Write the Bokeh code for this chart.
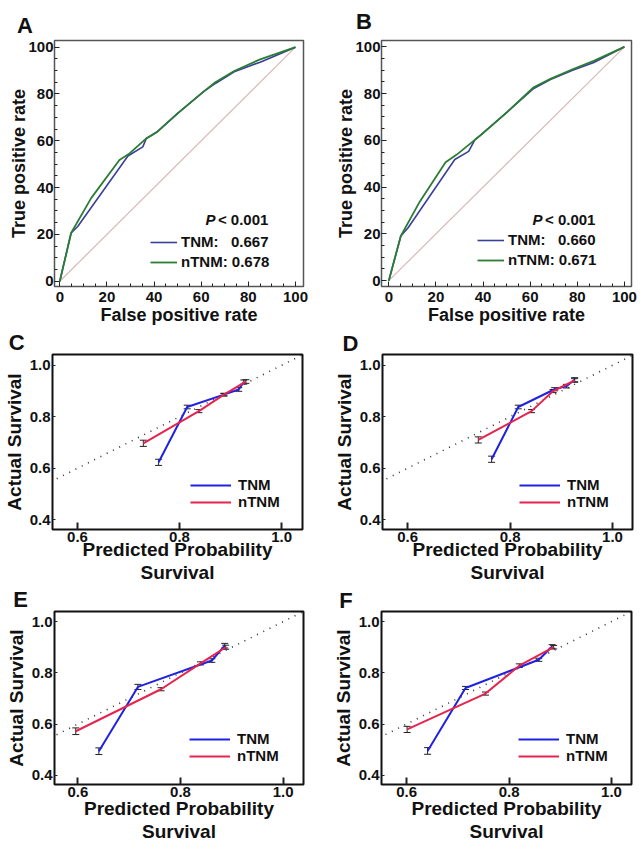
from bokeh.plotting import figure
from bokeh.layouts import column, row
from bokeh.models import (Range1d, FixedTicker, Legend, LegendItem, Label, Whisker,
                          TeeHead, ColumnDataSource, PrintfTickFormatter)
from bokeh.embed import file_html
from bokeh.resources import INLINE

FONT = "Liberation Sans"

# ---------------- ROC data (percent) ----------------
diag = [0, 100]
roc_ticks = [0, 20, 40, 60, 80, 100]
roc_minor = [5, 10, 15, 25, 30, 35, 45, 50, 55, 65, 70, 75, 85, 90, 95]

A_tnm_fpr = [0, 4.8, 7.6, 28.9, 35.2, 36.7, 41.3, 50.0, 61.0, 66.0, 74.0, 85.0, 100]
A_tnm_tpr = [0, 20.6, 23.4, 53.5, 57.4, 61.0, 63.8, 71.7, 81.0, 84.5, 89.5, 93.6, 100]
A_ntnm_fpr = [0, 4.8, 13.3, 25.3, 29.6, 36.7, 41.3, 50.0, 61.0, 66.0, 74.0, 85.0, 100]
A_ntnm_tpr = [0, 20.6, 35.5, 51.8, 54.6, 61.0, 63.8, 71.7, 81.0, 85.0, 89.8, 94.8, 100]
A_auc = ["0.667", "0.678"]

B_tnm_fpr = [0, 5.1, 8.2, 28.0, 33.9, 36.5, 39.3, 50.2, 61.5, 68.6, 78.0, 87.0, 100]
B_tnm_tpr = [0, 19.1, 22.6, 51.8, 55.3, 60.2, 62.5, 72.1, 82.2, 86.0, 90.0, 93.3, 100]
B_ntnm_fpr = [0, 5.1, 13.2, 24.1, 28.7, 36.5, 39.3, 50.2, 61.5, 68.6, 78.0, 87.0, 100]
B_ntnm_tpr = [0, 19.1, 33.9, 50.6, 53.8, 60.2, 62.5, 72.1, 82.7, 86.3, 90.4, 94.0, 100]
B_auc = ["0.660", "0.671"]

# ---------------- Calibration data ----------------
ideal = [0.4, 1.1]
cal_xticks = [0.6, 0.8, 1.0]
cal_yticks = [0.4, 0.6, 0.8, 1.0]

C_tnm_x = [0.759, 0.815, 0.887, 0.916, 0.926]
C_tnm_y = [0.623, 0.838, 0.886, 0.906, 0.935]
C_tnm_e = [0.012, 0.007, 0.005, 0.007, 0.008]
C_ntnm_x = [0.729, 0.838, 0.887, 0.930]
C_ntnm_y = [0.697, 0.822, 0.886, 0.937]
C_ntnm_e = [0.012, 0.006, 0.005, 0.007]

D_tnm_x = [0.764, 0.816, 0.887, 0.910, 0.926]
D_tnm_y = [0.635, 0.838, 0.907, 0.919, 0.944]
D_tnm_e = [0.012, 0.007, 0.006, 0.007, 0.008]
D_ntnm_x = [0.738, 0.842, 0.884, 0.926]
D_ntnm_y = [0.710, 0.822, 0.900, 0.941]
D_ntnm_e = [0.012, 0.006, 0.006, 0.007]

E_tnm_x = [0.641, 0.717, 0.861, 0.886]
E_tnm_y = [0.494, 0.745, 0.848, 0.906]
E_tnm_e = [0.013, 0.010, 0.007, 0.009]
E_ntnm_x = [0.596, 0.762, 0.839, 0.888]
E_ntnm_y = [0.572, 0.736, 0.837, 0.900]
E_ntnm_e = [0.013, 0.006, 0.006, 0.008]

F_tnm_x = [0.641, 0.715, 0.858, 0.884]
F_tnm_y = [0.495, 0.741, 0.851, 0.903]
F_tnm_e = [0.013, 0.006, 0.006, 0.007]
F_ntnm_x = [0.601, 0.754, 0.820, 0.887]
F_ntnm_y = [0.579, 0.719, 0.828, 0.900]
F_ntnm_e = [0.012, 0.006, 0.007, 0.007]

ROC_BLUE = "#3a3f9a"
ROC_GREEN = "#2c7d34"
DIAG = "#d8b9b9"
CAL_BLUE = "#1f22e0"
CAL_RED = "#e6244e"


def style_axes(p, tick_size="15px", label_size="18px"):
    for ax in (p.xaxis[0], p.yaxis[0]):
        ax.axis_line_color = None
        ax.major_label_text_font = FONT
        ax.major_label_text_font_style = "bold"
        ax.major_label_text_font_size = tick_size
        ax.major_label_text_color = "#111111"
        ax.axis_label_text_font = FONT
        ax.axis_label_text_font_style = "bold"
        ax.axis_label_text_font_size = label_size
        ax.axis_label_text_color = "#111111"
        ax.major_tick_line_color = "#222222"
        ax.minor_tick_line_color = "#222222"


def make_fig(width, height, bl, br, bt, bb, xr, yr, letter, letter_spec):
    p = figure(width=width, height=height, x_range=Range1d(*xr), y_range=Range1d(*yr),
               output_backend="svg", toolbar_location=None,
               min_border_left=bl, min_border_right=br, min_border_top=bt,
               min_border_bottom=bb)
    p.grid.visible = False
    p.title.visible = False
    # panel letter lives in a side panel so it is not clipped to the frame
    side, lx, x_units, ly = letter_spec
    p.add_layout(Label(x=lx, y=ly, x_units=x_units, y_units="screen",
                       text=letter, text_font=FONT, text_font_style="bold",
                       text_font_size="22px", text_align="center",
                       text_baseline="alphabetic", text_color="#111111"), side)
    return p


def roc_panel(letter, width, bl, br, bt, bb, xr, yr, tnm_f, tnm_t, ntnm_f, ntnm_t, auc,
              letter_spec, p_xy, leg_loc):
    p = make_fig(width, 329, bl, br, bt, bb, xr, yr, letter, letter_spec)
    style_axes(p)
    p.outline_line_color = "#555555"
    p.outline_line_width = 1.5
    p.xaxis.axis_label = "False positive rate"
    p.yaxis.axis_label = "True positive rate"
    for ax in (p.xaxis[0], p.yaxis[0]):
        ax.ticker = FixedTicker(ticks=roc_ticks, minor_ticks=roc_minor)
        ax.major_tick_in = 5
        ax.major_tick_out = 0
        ax.minor_tick_in = 3
        ax.minor_tick_out = 0
    p.xaxis.major_label_standoff = 5
    p.xaxis.axis_label_standoff = 0
    p.yaxis.major_label_standoff = 1
    p.yaxis.axis_label_standoff = -4

    p.line(diag, diag, line_color=DIAG, line_width=1.2)
    r1 = p.line(tnm_f, tnm_t, line_color=ROC_BLUE, line_width=1.6)
    r2 = p.line(ntnm_f, ntnm_t, line_color=ROC_GREEN, line_width=1.8)

    nb = "\u00a0"
    legend = Legend(items=[LegendItem(label="TNM:" + nb * 3 + auc[0], renderers=[r1]),
                           LegendItem(label="nTNM: " + auc[1], renderers=[r2])],
                    location=leg_loc, border_line_color=None, background_fill_alpha=0,
                    padding=0, margin=0, spacing=3, glyph_width=27, glyph_height=16,
                    label_height=16, label_standoff=4,
                    label_text_font=FONT, label_text_font_style="bold",
                    label_text_font_size="15px", label_text_color="#111111")
    p.add_layout(legend)

    p.add_layout(Label(x=p_xy[0], y=p_xy[1], text="< 0.001", text_font=FONT,
                       text_font_style="bold", text_font_size="15px", text_align="right",
                       text_baseline="middle", text_color="#111111"))
    p.add_layout(Label(x=p_xy[0], y=p_xy[1], x_offset=-53, text="P", text_font=FONT,
                       text_font_style="bold italic", text_font_size="15px",
                       text_align="right", text_baseline="middle", text_color="#111111"))
    return p


def cal_panel(letter, width, height, bl, br, bt, bb, xr, yr,
              tx, ty, te, nx, ny, ne, letter_spec, leg_loc, xlabel_standoff):
    p = make_fig(width, height, bl, br, bt, bb, xr, yr, letter, letter_spec)
    style_axes(p, tick_size="15px", label_size="19px")
    p.outline_line_color = "#111111"
    p.outline_line_width = 2
    p.xaxis.axis_label = "Predicted Probability\nSurvival"
    p.yaxis.axis_label = "Actual Survival"
    p.xaxis.axis_label_text_line_height = 1.1
    p.xaxis.ticker = FixedTicker(ticks=cal_xticks)
    p.yaxis.ticker = FixedTicker(ticks=cal_yticks)
    p.xaxis.formatter = PrintfTickFormatter(format="%.1f")
    p.yaxis.formatter = PrintfTickFormatter(format="%.1f")
    p.xaxis.major_tick_in = 7
    p.xaxis.major_tick_out = 0
    p.xaxis.major_tick_line_width = 2
    p.yaxis.major_tick_in = 3
    p.yaxis.major_tick_out = 0
    p.xaxis.minor_tick_line_color = None
    p.yaxis.minor_tick_line_color = None
    p.xaxis.major_label_standoff = 2
    p.xaxis.axis_label_standoff = xlabel_standoff
    p.yaxis.major_label_standoff = 2
    p.yaxis.axis_label_standoff = 2

    p.line(ideal, ideal, line_color="#333333", line_width=1.6, line_dash="1 6")

    r1 = p.line(tx, ty, line_color=CAL_BLUE, line_width=2)
    r2 = p.line(nx, ny, line_color=CAL_RED, line_width=2)

    for xs, ys, es in ((tx, ty, te), (nx, ny, ne)):
        src = ColumnDataSource(dict(x=xs, upper=[y + e for y, e in zip(ys, es)],
                                    lower=[y - e for y, e in zip(ys, es)]))
        p.add_layout(Whisker(source=src, base="x", upper="upper", lower="lower",
                             line_color="#222222", line_width=1,
                             upper_head=TeeHead(size=7, line_color="#222222", line_width=1),
                             lower_head=TeeHead(size=7, line_color="#222222", line_width=1)))

    legend = Legend(items=[LegendItem(label="TNM", renderers=[r1]),
                           LegendItem(label="nTNM", renderers=[r2])],
                    location=leg_loc, border_line_color=None, background_fill_alpha=0,
                    padding=0, margin=0, spacing=0, glyph_width=41, glyph_height=14,
                    label_height=14, label_standoff=7,
                    label_text_font=FONT, label_text_font_style="bold",
                    label_text_font_size="15px", label_text_color="#111111")
    p.add_layout(legend)
    return p


# rows: 329 + 257 + 260 = 846 px
pA = roc_panel("A", 320, 54, 17, 40, 42, (-2.25, 103.4), (-2.26, 102.85),
               A_tnm_fpr, A_tnm_tpr, A_ntnm_fpr, A_ntnm_tpr, A_auc,
               ("above", -29.5, "screen", 15), (88.5, 26.3), (96, 16))
pB = roc_panel("B", 320, 61, 9, 38, 43, (-3.1, 103.0), (-2.5, 102.7),
               B_tnm_fpr, B_tnm_tpr, B_ntnm_fpr, B_ntnm_tpr, B_auc,
               ("above", -17.5, "screen", 19), (87.7, 26.2), (96, 18))

pC = cal_panel("C", 320, 257, 52, 18, 23, 57, (0.551, 1.041), (0.362, 1.042),
               C_tnm_x, C_tnm_y, C_tnm_e, C_ntnm_x, C_ntnm_y, C_ntnm_e,
               ("right", 0.481, "data", 187.5), (138, 19), -6)
pD = cal_panel("D", 320, 257, 62, 8, 23, 57, (0.551, 1.039), (0.362, 1.042),
               D_tnm_x, D_tnm_y, D_tnm_e, D_ntnm_x, D_ntnm_y, D_ntnm_e,
               ("above", -32, "screen", 11.5), (137, 19), -6)
pE = cal_panel("E", 320, 260, 54, 17, 22, 62, (0.5546, 1.0395), (0.364, 1.0395),
               E_tnm_x, E_tnm_y, E_tnm_e, E_ntnm_x, E_ntnm_y, E_ntnm_e,
               ("right", 0.4884, "data", 185), (135, 20), -2)
pF = cal_panel("F", 320, 260, 61, 9, 22, 62, (0.551, 1.039), (0.364, 1.0395),
               F_tnm_x, F_tnm_y, F_tnm_e, F_ntnm_x, F_ntnm_y, F_ntnm_e,
               ("above", -35.5, "screen", 11.5), (137, 20), -2)

layout = column(row(pA, pB), row(pC, pD), row(pE, pF))

open("out.html", "w").write(file_html(layout, INLINE))
